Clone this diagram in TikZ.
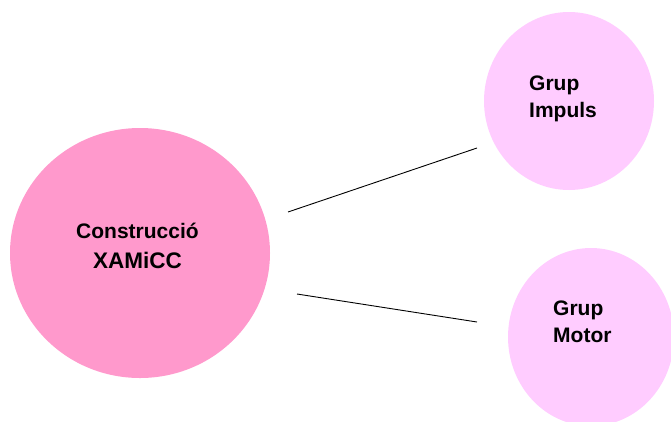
\documentclass[tikz,border=0pt]{standalone}
\usepackage{fontspec}
\setmainfont{Liberation Sans}
\definecolor{bigpink}{HTML}{FF99CC}
\definecolor{lightpink}{HTML}{FFCCFF}
\tikzset{
  bubble/.style={ellipse, draw=none, inner sep=0pt},
  lbl/.style={font=\bfseries\fontsize{21}{27}\selectfont, inner sep=0pt, anchor=base west, text=black},
  link/.style={draw=black, line width=0.9pt}
}
\usetikzlibrary{shapes.geometric}
\begin{document}
\begin{tikzpicture}[x=1pt,y=-1pt]
\useasboundingbox (0,0) rectangle (671,421);
\clip (0,0) rectangle (671,421);
\fill[bigpink] (140,253) ellipse [x radius=130, y radius=125];
\node[bubble] (main) at (140,253) {};
\fill[lightpink] (569,101) ellipse [x radius=85, y radius=89];
\node[bubble] (impuls) at (569,101) {};
\fill[lightpink] (591,337) ellipse [x radius=83, y radius=89];
\node[bubble] (motor) at (591,337) {};
\node[font=\bfseries\fontsize{21}{30}\selectfont, inner sep=0pt, anchor=base, text=black] (t1) at (137.5,238) {Construcció};
\node[font=\bfseries\fontsize{22.5}{30}\selectfont, inner sep=0pt, anchor=base, text=black] (t2) at (137.5,268) {XAMiCC};
\node[lbl] (g1) at (529,90) {Grup};
\node[lbl] (g2) at (529,117) {Impuls};
\node[lbl] (g3) at (553,315) {Grup};
\node[lbl] (g4) at (553,342) {Motor};
\coordinate (a1) at (288,212);
\coordinate (b1) at (477,148);
\coordinate (a2) at (297,294);
\coordinate (b2) at (477,322);
\draw[link] (a1) -- (b1);
\draw[link] (a2) -- (b2);
\end{tikzpicture}
\end{document}
